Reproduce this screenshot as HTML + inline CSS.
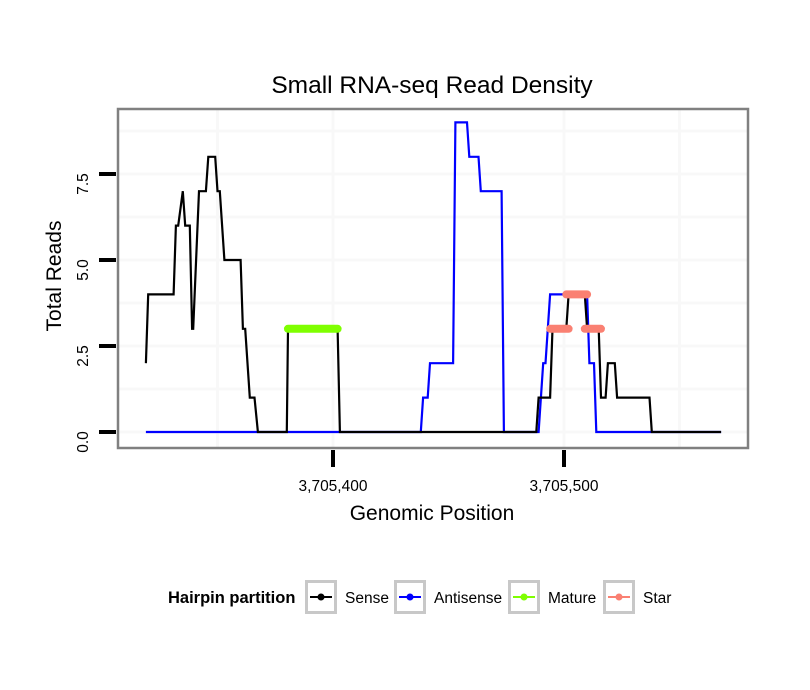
<!DOCTYPE html>
<html><head><meta charset="utf-8"><style>
html,body{margin:0;padding:0;background:#fff;}
svg{display:block;font-family:"Liberation Sans",sans-serif;}
</style></head><body>
<svg id="chart" width="810" height="690" xmlns="http://www.w3.org/2000/svg">
<rect width="810" height="690" fill="#fff"/>
<text x="432" y="93" text-anchor="middle" font-size="24.5" fill="#000">Small RNA-seq Read Density</text>
<g id="grid"></g>
<g id="series"></g>
<rect x="118" y="109" width="630" height="339" fill="none" stroke="#808080" stroke-width="2.5"/>
<g id="axes"></g>
<text x="432" y="520" text-anchor="middle" font-size="21">Genomic Position</text>
<text transform="translate(61,276) rotate(-90)" text-anchor="middle" font-size="21">Total Reads</text>
<g>
<text x="168" y="603" font-size="16.5" font-weight="bold">Hairpin partition</text>
<g id="legend"></g>
</g>
</svg>
<script>
const xTicks = [3705400, 3705500];
const xTickLabels = ["3,705,400", "3,705,500"];
const xGrid = [3705350, 3705550];
const yTicks = [0, 2.5, 5, 7.5];
const yTickLabels = ["0.0", "2.5", "5.0", "7.5"];
const yGrid = [1.25, 3.75, 6.25, 8.75, 0, 2.5, 5, 7.5];

const antisensePos = [3705319,3705438,3705439,3705441,3705442,3705452,3705453,3705458,3705459,3705463,3705464,3705473,3705474,3705489,3705491,3705492,3705494,3705510,3705511,3705513,3705514,3705568];
const antisenseVal = [0,0,1,1,2,2,9,9,8,8,7,7,0,0,2,2,4,4,2,2,0,0];
const sensePos = [3705319,3705320,3705331,3705332,3705333,3705335,3705336,3705338,3705339,3705339.5,3705342,3705345,3705346,3705349,3705350,3705351,3705353,3705360,3705361,3705362,3705364,3705366,3705367.5,3705380,3705380.5,3705402,3705403,3705488,3705489,3705494,3705495,3705501,3705502,3705509,3705510,3705515,3705516,3705518,3705519,3705522,3705523,3705537,3705538,3705568];
const senseVal = [2,4,4,6,6,7,6,6,3,3,7,7,8,8,7,7,5,5,3,3,1,1,0,0,3,3,0,0,1,1,3,3,4,4,3,3,1,1,2,2,1,1,0,0];
const maturePos = [[3705380.5,3705402]];
const matureVal = [3];
const starPos = [[3705494,3705502],[3705501,3705510],[3705509,3705516]];
const starVal = [3,4,3];

const NS="http://www.w3.org/2000/svg";
function X(v){return 333+(v-3705400)*2.31;}
function Y(v){return 432-v*34.4;}
function el(tag,attrs,parent){const e=document.createElementNS(NS,tag);for(const k in attrs)e.setAttribute(k,attrs[k]);parent.appendChild(e);return e;}
const grid=document.getElementById('grid'),series=document.getElementById('series'),axes=document.getElementById('axes'),legend=document.getElementById('legend');

yGrid.forEach(v=>{const l=el('line',{x1:119,x2:747,y1:Y(v),y2:Y(v),stroke:'#f8f8f8','stroke-width':3},grid);

});
xGrid.concat(xTicks).forEach(v=>{const l=el('line',{x1:X(v),x2:X(v),y1:110,y2:447,stroke:'#f8f8f8','stroke-width':3},grid);

});

function poly(pos,val,color,name){const pts=pos.map((p,i)=>X(p).toFixed(1)+','+Y(val[i]).toFixed(1)).join(' ');
const l=el('polyline',{points:pts,fill:'none',stroke:color,'stroke-width':2.2,'stroke-linejoin':'miter'},series);

}
poly(antisensePos,antisenseVal,'#0000ff','antisense-line');
poly(sensePos,senseVal,'#000000','sense-line');
function seg(arr,vals,color,name){arr.forEach((r,i)=>{const l=el('line',{x1:X(r[0]),x2:X(r[1]),y1:Y(vals[i]),y2:Y(vals[i]),stroke:color,'stroke-width':8,'stroke-linecap':'round'},series);

});}
seg(maturePos,matureVal,'#7fff00','mature-segment');
seg(starPos,starVal,'#fa8072','star-segment');

yTicks.forEach((v,i)=>{const t=el('line',{x1:99,x2:116,y1:Y(v),y2:Y(v),stroke:'#000','stroke-width':4},axes);


const tx=el('text',{transform:`translate(88,${Y(v)+10}) rotate(-90)`,'text-anchor':'middle','font-size':15.5},axes);tx.textContent=yTickLabels[i];

});
xTicks.forEach((v,i)=>{const t=el('line',{x1:X(v),x2:X(v),y1:450,y2:467,stroke:'#000','stroke-width':4},axes);


const tx=el('text',{x:X(v),y:491,'text-anchor':'middle','font-size':15.5},axes);tx.textContent=xTickLabels[i];

});

const legNames=['Sense','Antisense','Mature','Star'];
const legColors=['#000000','#0000ff','#7fff00','#fa8072'];
const legBoxX=[305,394,508,603];
legNames.forEach((n,i)=>{const g=el('g',{},legend);


const bx=legBoxX[i];
el('rect',{x:bx+1.5,y:581.5,width:29,height:31,fill:'#fff',stroke:'#c8c8c8','stroke-width':3},g);
el('line',{x1:bx+5,x2:bx+27,y1:597,y2:597,stroke:legColors[i],'stroke-width':2},g);
el('circle',{cx:bx+16,cy:597,r:3.5,fill:legColors[i]},g);
const t=el('text',{x:bx+40,y:603,'font-size':15.5},g);t.textContent=n;});
</script>
</body></html>
